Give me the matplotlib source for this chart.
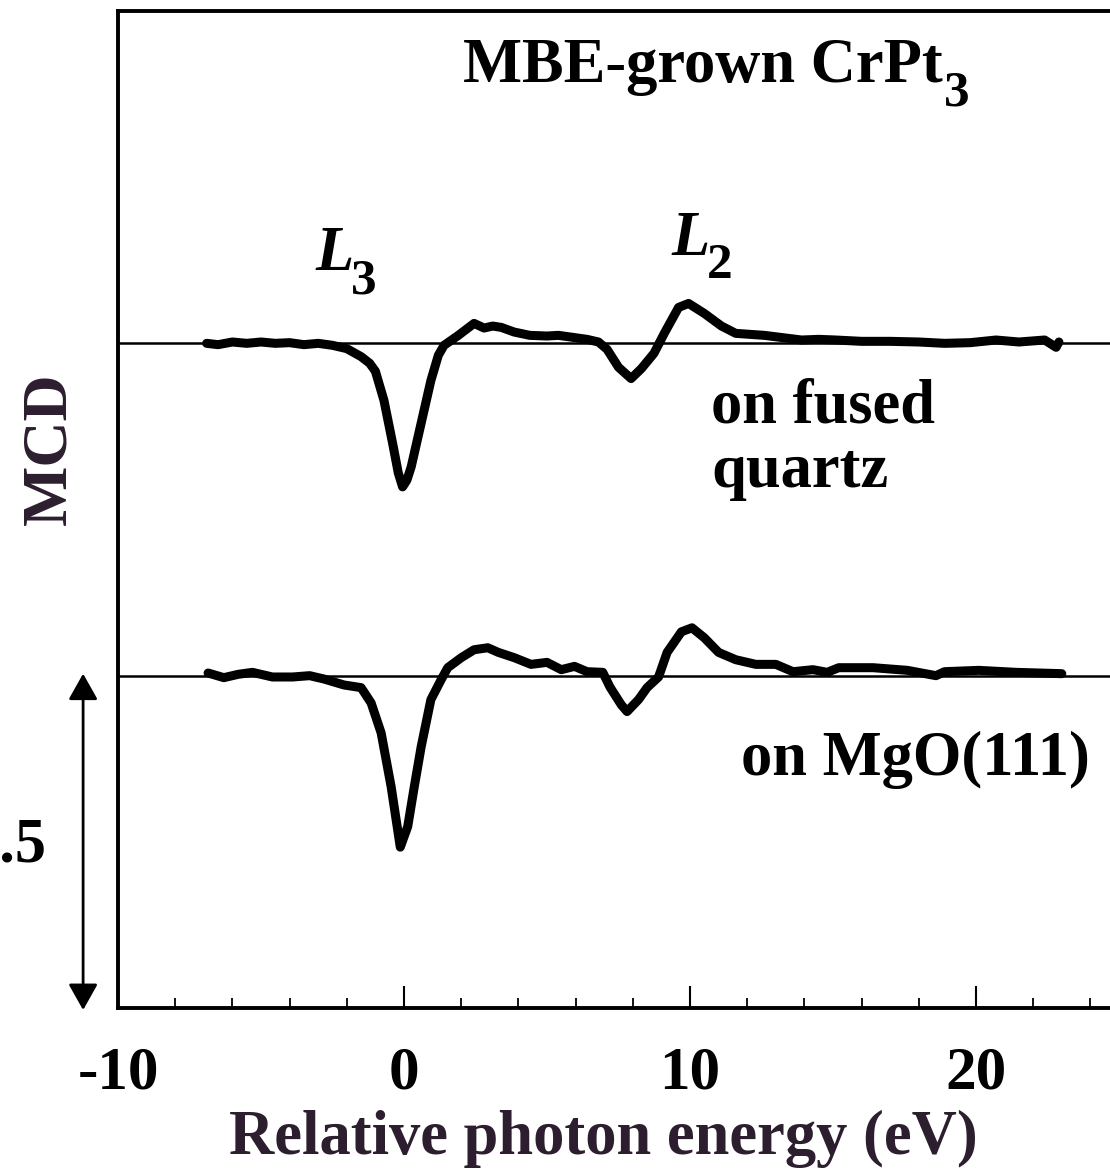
import matplotlib
matplotlib.use("Agg")
import matplotlib.pyplot as plt
import numpy as np

# MCD spectra of MBE-grown CrPt3.
# MCD values in the units of the scale bar (arrow = 0.5)
energy_quartz = [-6.9, -6.5, -6.0, -5.5, -5.0, -4.5, -4.0, -3.5, -3.0, -2.5,
                 -2.0, -1.5, -1.2, -1.0, -0.7, -0.4, -0.2, -0.05, 0.1, 0.25,
                 0.6, 0.94, 1.2, 1.4, 1.9, 2.45, 2.8, 3.1, 3.4, 3.85,
                 4.4, 5.0, 5.4, 5.9, 6.4, 6.8, 7.1, 7.5, 7.94, 8.3,
                 8.74, 9.1, 9.6, 9.95, 10.5, 11.1, 11.6, 12.6, 13.9, 14.5,
                 15.1, 16.0, 17.0, 18.0, 18.9, 19.8, 20.7, 21.5, 22.4, 22.8, 22.9]
mcd_quartz = [0.000, -0.002, 0.002, 0.000, 0.002, 0.000, 0.001, -0.002, 0.000, -0.003,
              -0.008, -0.020, -0.030, -0.042, -0.086, -0.150, -0.195, -0.216, -0.206, -0.186,
              -0.120, -0.056, -0.018, -0.003, 0.012, 0.030, 0.023, 0.026, 0.024, 0.017,
              0.012, 0.011, 0.012, 0.009, 0.006, 0.002, -0.009, -0.036, -0.053, -0.038,
              -0.015, 0.015, 0.054, 0.060, 0.045, 0.026, 0.015, 0.012, 0.005, 0.006,
              0.005, 0.003, 0.003, 0.002, 0.000, 0.001, 0.005, 0.002, 0.005, -0.006, 0.002]

energy_mgo = [-6.85, -6.3, -5.8, -5.3, -4.6, -3.9, -3.3, -2.8, -2.1, -1.5,
              -1.15, -0.8, -0.45, -0.13, 0.13, 0.36, 0.6, 0.94, 1.3, 1.53,
              2.0, 2.45, 2.93, 3.3, 3.86, 4.44, 5.0, 5.5, 5.96, 6.4,
              6.95, 7.2, 7.6, 7.8, 8.2, 8.5, 8.9, 9.2, 9.7, 10.07,
              10.5, 11.0, 11.6, 12.3, 13.0, 13.6, 14.3, 14.8, 15.2, 16.4,
              17.6, 18.6, 18.9, 20.1, 21.4, 23.0]
mcd_mgo = [0.004, -0.003, 0.002, 0.005, -0.002, -0.002, 0.000, -0.005, -0.014, -0.018,
           -0.041, -0.086, -0.167, -0.258, -0.227, -0.167, -0.107, -0.036, -0.006, 0.012,
           0.027, 0.039, 0.042, 0.035, 0.027, 0.017, 0.020, 0.009, 0.014, 0.006,
           0.005, -0.017, -0.044, -0.054, -0.036, -0.018, -0.002, 0.035, 0.066, 0.072,
           0.057, 0.035, 0.024, 0.017, 0.017, 0.006, 0.009, 0.005, 0.012, 0.012,
           0.008, 0.000, 0.006, 0.008, 0.005, 0.003]

offset_quartz = 1.0
offset_mgo = 0.5
scale_bar = 0.5

xticks_major = [-10, 0, 10, 20]
xtick_labels = ["-10", "0", "10", "20"]

W, H = 1110, 1169
label_color = "#2d1e2f"


def add_subscript(ax, main_text, sub, dx=0):
    """ Puts a big, low subscript right after a text, like in the scan. """
    ax.annotate(sub, xy=(1.0, 0.0), xycoords=main_text, xytext=(dx, -9),
                textcoords="offset pixels", fontsize=37, ha="left", va="baseline")


def main():
    plt.rcParams["font.family"] = "Liberation Serif"
    plt.rcParams["font.weight"] = "bold"
    plt.rcParams["axes.unicode_minus"] = False

    fig = plt.figure(figsize=(W / 100, H / 100), dpi=100)
    # right spine falls just outside the picture, as in the scan
    ax = fig.add_axes([118 / W, 1 - 1008 / H, 1001 / W, 997 / H])
    ax.set_xlim(-10, 25)
    ax.set_ylim(0, 1.5)

    for sp in ax.spines.values():
        sp.set_linewidth(2.8)

    # zero lines
    ax.axhline(offset_quartz, color="black", lw=1.8)
    ax.axhline(offset_mgo, color="black", lw=1.8)

    ax.plot(energy_quartz, np.array(mcd_quartz) + offset_quartz, color="black",
            lw=6.5, solid_joinstyle="round", solid_capstyle="round")
    ax.plot(energy_mgo, np.array(mcd_mgo) + offset_mgo, color="black",
            lw=6.5, solid_joinstyle="round", solid_capstyle="round")

    ax.set_xticks(xticks_major)
    ax.set_xticklabels(xtick_labels)
    ax.set_xticks(np.arange(-8, 25, 2), minor=True)
    ax.tick_params(axis="x", which="major", direction="in", length=16, width=1.5,
                   labelsize=44, pad=27)
    ax.tick_params(axis="x", which="minor", direction="in", length=7, width=1.3)
    ax.tick_params(axis="x", top=False, which="both")
    ax.set_yticks([])

    # texts
    title = ax.text(2.06, 1.393, "MBE-grown CrPt", fontsize=45, ha="left", va="baseline")
    add_subscript(ax, title, "3", dx=1)
    l3 = ax.text(-3.08, 1.110, "L", fontsize=45, fontstyle="italic",
                 ha="left", va="baseline")
    add_subscript(ax, l3, "3", dx=-3)
    l2 = ax.text(9.35, 1.133, "L", fontsize=45, fontstyle="italic",
                 ha="left", va="baseline")
    add_subscript(ax, l2, "2", dx=-3)
    ax.text(10.73, 0.881, "on fused", fontsize=45, ha="left", va="baseline")
    ax.text(10.73, 0.784, "quartz", fontsize=45, ha="left", va="baseline")
    ax.text(11.78, 0.35, "on MgO(111)", fontsize=45, ha="left", va="baseline")

    # scale bar outside the axes
    ax.annotate("", xy=(-11.22, -0.003), xytext=(-11.22, scale_bar + 0.003),
                xycoords="data", annotation_clip=False,
                arrowprops=dict(arrowstyle="<|-|>,head_length=0.8,head_width=0.45",
                                mutation_scale=20, lw=2.0, color="black",
                                shrinkA=0, shrinkB=0))
    fig.text(47 / W, 1 - 861 / H, "0.5", fontsize=45, ha="right", va="baseline")

    fig.text(65 / W, 1 - 449 / H, "MCD", fontsize=46, color=label_color,
             rotation=90, rotation_mode="anchor", ha="center", va="baseline")
    fig.text(603 / W, 1 - 1154 / H, "Relative photon energy (eV)", fontsize=45,
             color=label_color, ha="center", va="baseline")

    fig.savefig("out.png", dpi=100)


if __name__ == "__main__":
    main()
